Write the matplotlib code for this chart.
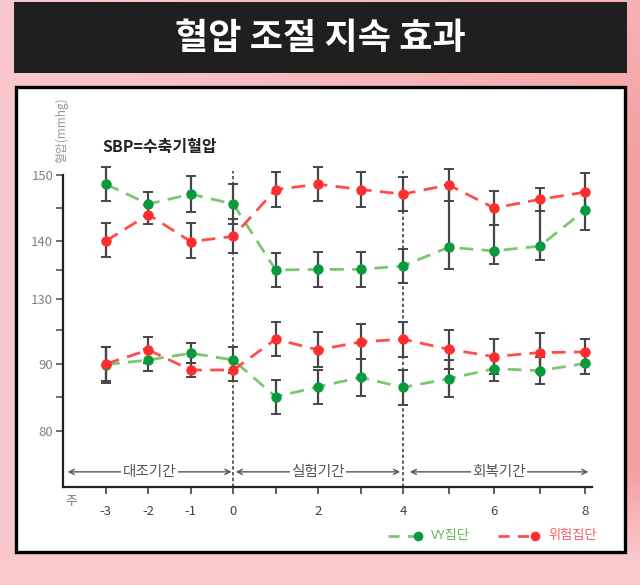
import numpy as np
import matplotlib
matplotlib.use("Agg")
import matplotlib.pyplot as plt
from matplotlib.patches import Rectangle
from matplotlib.lines import Line2D

plt.rcParams['font.family'] = ['Noto Sans CJK KR', 'DejaVu Sans']

# ---------------- data ----------------
weeks = [-3, -2, -1, 0, 1, 2, 3, 4, 5, 6, 7, 8]
tick_weeks = [-3, -2, -1, 0, 1, 2, 3, 4, 5, 6, 7, 8]
tick_labels = ['-3', '-2', '-1', '0', '', '2', '', '4', '', '6', '', '8']

# systolic (SBP)
green_sbp = [148.6, 145.6, 147.1, 145.6, 135.0, 135.1, 135.1, 135.7, 138.9, 138.3, 139.1, 144.7]
green_sbp_lo = [2.6, 1.8, 2.7, 3.0, 2.9, 3.0, 3.0, 3.0, 3.7, 2.3, 2.4, 3.0]
green_sbp_hi = [2.6, 1.8, 2.7, 3.0, 2.9, 3.0, 3.0, 3.0, 9.6, 6.7, 7.2, 2.7]
red_sbp = [140.0, 144.0, 139.9, 140.7, 147.8, 148.6, 147.8, 147.1, 148.5, 145.0, 146.3, 147.4]
red_sbp_err = [2.7, 1.5, 2.8, 2.7, 2.6, 2.6, 2.6, 2.6, 2.4, 2.6, 1.7, 2.9]

# diastolic (DBP)
green_dbp = [89.9, 90.6, 91.6, 90.6, 85.1, 86.6, 88.0, 86.5, 87.8, 89.3, 89.0, 90.1]
green_dbp_err = [2.7, 1.7, 1.5, 2.0, 2.5, 2.5, 2.8, 2.6, 2.8, 1.8, 2.0, 1.6]
red_dbp = [90.0, 92.1, 89.1, 89.1, 93.7, 92.1, 93.3, 93.7, 92.2, 91.1, 91.7, 91.8]
red_dbp_err = [2.6, 1.9, 1.1, 1.6, 2.5, 2.6, 2.6, 2.6, 2.9, 2.6, 2.9, 1.9]

y_ticks = [80, 90, 130, 140, 150]
y_minor = [85, 95, 135, 145]

periods = [('대조기간', -3.9, -0.04), ('실험기간', 0.06, 3.93), ('회복기간', 4.15, 8.07)]
period_lines = [0, 4]

title = '혈압 조절 지속 효과'
legend_labels = ['VY집단', '위험집단']

# ---------------- style ----------------
W, H = 640, 585
G_LINE, G_MARK = '#7cc571', '#0a9a3e'
R_LINE, R_MARK = '#ff4d4d', '#ff2e2e'
ERR = '#454545'

fig = plt.figure(figsize=(W / 100, H / 100), dpi=100)

def px(x, y):
    return (x / W, 1 - y / H)

# gradient background
bg = fig.add_axes([0, 0, 1, 1])
bg.set_zorder(-10)
yy, xx = np.mgrid[0:1:300j, 0:1:300j]
c1 = np.array([249, 200, 202]) / 255.0
c2 = np.array([244, 158, 162]) / 255.0
fade = np.clip((0.95 - yy) / 0.15, 0, 1)
t = np.clip(xx ** 1.2 * (0.55 + 0.45 * np.clip(yy / 0.3, 0, 1)) * fade, 0, 1)
img = c1[None, None, :] * (1 - t[..., None]) + c2[None, None, :] * t[..., None]
bg.imshow(img, extent=[0, 1, 0, 1], aspect='auto', origin='upper')
bg.axis('off')

# title box
x0, y0 = px(14, 72.5)
fig.patches.append(Rectangle((x0, y0), (627 - 14) / W, 70.5 / H, transform=fig.transFigure,
                             facecolor='#1f1f1f', edgecolor='none', zorder=-5))
fig.text(0.5, 1 - 38 / H, title, color='white', fontsize=26, fontweight='bold',
         ha='center', va='center')

# white panel
x0, y0 = px(15.5, 551.5)
fig.patches.append(Rectangle((x0, y0), (624.5 - 15.5) / W, (551.5 - 86.5) / H,
                             transform=fig.transFigure, facecolor='white',
                             edgecolor='black', linewidth=2.4, zorder=-5))

# y scale: piecewise (compressed gap between DBP and SBP ranges)
YR = np.array([0.0, 70.0, 80.0, 90.0, 96.5, 127.5, 130.0, 140.0, 150.0, 160.0, 300.0])
YD = np.array([-367.0, 102.0, 169.0, 236.0, 279.55, 286.5, 301.0, 359.0, 425.0, 491.0, 1415.0])
yf = lambda v: np.interp(v, YR, YD)
yi = lambda d: np.interp(d, YD, YR)
# x scale: piecewise linear week positions
XR = np.array([-10.0, -3.0, 4.0, 8.0, 15.0])
XD = np.array([106 - 7 * 42.43, 106.0, 403.0, 585.0, 585 + 7 * 45.5])
xf = lambda v: np.interp(v, XR, XD)
xi = lambda d: np.interp(d, XD, XR)

ax = fig.add_axes([63 / W, 1 - 487 / H, (592 - 63) / W, (487 - 160) / H])
ax.set_facecolor('none')
ax.set_yscale('function', functions=(yf, yi))
ax.set_xscale('function', functions=(xf, xi))
ax.set_xlim(-4.01, 8.15)
ax.set_ylim(71.64, 152.27)

for sp in ['top', 'right']:
    ax.spines[sp].set_visible(False)
ax.spines['left'].set_bounds(71.64, 150)
for sp in ['left', 'bottom']:
    ax.spines[sp].set_linewidth(1.6)
    ax.spines[sp].set_color('#222')

ax.set_yticks(y_ticks)
ax.set_yticklabels([str(v) for v in y_ticks])
ax.set_yticks(y_minor, minor=True)
ax.yaxis.set_minor_formatter(plt.NullFormatter())
ax.tick_params(axis='y', which='both', direction='out', length=5, width=1.2,
               color='#555', labelcolor='#808080', labelsize=9.5, pad=2)
ax.set_xticks(tick_weeks)
ax.set_xticklabels(tick_labels)
ax.xaxis.set_minor_locator(plt.NullLocator())
ax.tick_params(axis='x', direction='out', length=5, width=1.2, color='#444',
               labelcolor='#444', labelsize=9.5, pad=8)

# period separators
for w in period_lines:
    ax.plot([w, w], [71.64, 150.6], linestyle=(0, (2.2, 1.6)), color='#333', lw=1.1, zorder=1)

# period arrows
ya = 73.9
for name, a, b in periods:
    ax.annotate('', xy=(a, ya), xytext=(b, ya),
                arrowprops=dict(arrowstyle='<->', color='#555', lw=1.0,
                                shrinkA=0, shrinkB=0, mutation_scale=9))
    ax.text((a + b) / 2, ya, name, ha='center', va='center', fontsize=10.5, color='#555',
            bbox=dict(facecolor='white', edgecolor='none', pad=1.0), zorder=3)

# error bars
ekw = dict(fmt='none', ecolor=ERR, elinewidth=1.6, capsize=3.5, capthick=1.4, zorder=2)
ax.errorbar(weeks, green_sbp, yerr=[green_sbp_lo, green_sbp_hi], **ekw)
ax.errorbar(weeks, red_sbp, yerr=red_sbp_err, **ekw)
ax.errorbar(weeks, green_dbp, yerr=green_dbp_err, **ekw)
ax.errorbar(weeks, red_dbp, yerr=red_dbp_err, **ekw)

# lines and markers
lkw = dict(lw=2.0, marker='o', markersize=7.5, markeredgewidth=0, zorder=4)
ax.plot(weeks, green_sbp, color=G_LINE, dashes=(5, 3), markerfacecolor=G_MARK, **lkw)
ax.plot(weeks, green_dbp, color=G_LINE, dashes=(5, 3), markerfacecolor=G_MARK, **lkw)
ax.plot(weeks, red_sbp, color=R_LINE, dashes=(5, 3), markerfacecolor=R_MARK, **lkw)
ax.plot(weeks, red_dbp, color=R_LINE, dashes=(5, 3), markerfacecolor=R_MARK, **lkw)

# annotations
fig.text(*px(102, 147), 'SBP=수축기혈압', fontsize=11.5, color='#222', fontweight='bold',
         ha='left', va='center')
fig.text(*px(62, 130), '혈압(mmhg)', fontsize=8.5, color='#999', rotation=90,
         ha='center', va='center')
fig.text(*px(71, 501), '주', fontsize=9, color='#777', ha='center', va='center')

# legend (manual)
def leg(xa, xb, y, lc, mc, label, tc):
    fig.add_artist(Line2D([xa / W, xb / W], [1 - y / H, 1 - y / H], transform=fig.transFigure,
                          color=lc, lw=2.0, dashes=(4, 3)))
    fig.add_artist(Line2D([xb / W], [1 - y / H], transform=fig.transFigure,
                          marker='o', markersize=7, color=mc, markeredgewidth=0))
    fig.text((xb + 13) / W, 1 - y / H, label, color=tc, fontsize=9.5, ha='left', va='center')

leg(388, 418, 536, G_LINE, G_MARK, legend_labels[0], '#5cb85c')
leg(498, 535, 536, R_LINE, R_MARK, legend_labels[1], '#ff5a5a')

fig.savefig('out.png', dpi=100)
